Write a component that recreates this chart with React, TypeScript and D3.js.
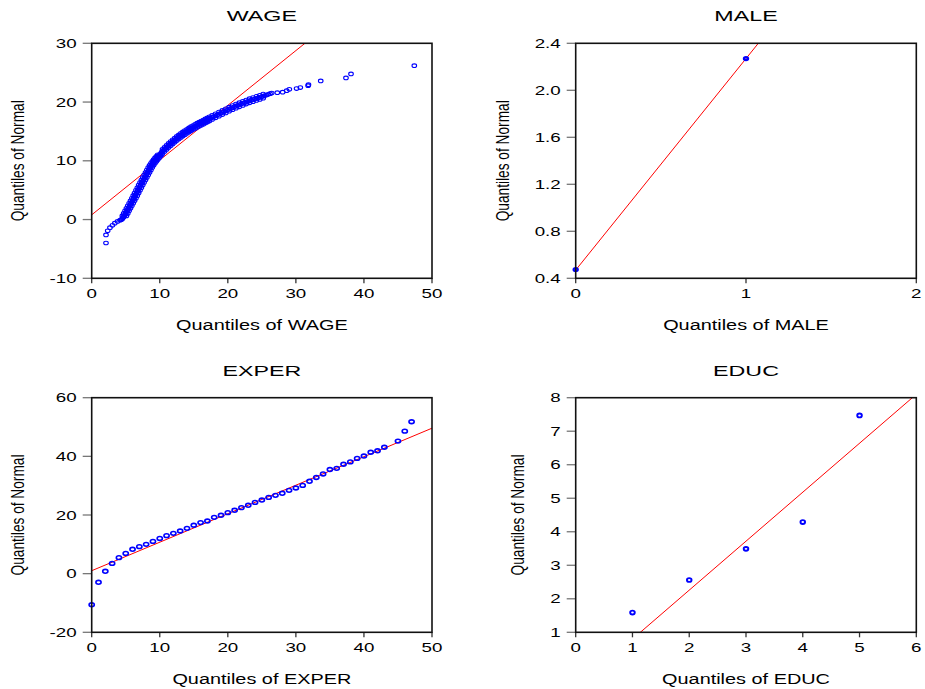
import React from "react";
import * as d3 from "d3";

// ---------- data ----------
// WAGE: sample quantiles (x) against theoretical normal quantiles (y)
const wageSample: number[] = [
  2.1, 2.1, 2.35, 2.68, 3.05, 3.4, 3.8, 4.15, 4.28,
  4.4, 4.5, 4.6, 4.7, 4.8, 4.9, 5.0, 5.1, 5.2, 5.3, 5.4, 5.5, 5.6, 5.7, 5.8, 5.9,
  6.0, 6.1, 6.2, 6.3, 6.4, 6.5, 6.6, 6.7, 6.8, 6.9, 7.0, 7.1, 7.2, 7.3, 7.4, 7.5,
  7.6, 7.7, 7.8, 7.9, 8.0, 8.1, 8.2, 8.3, 8.4, 8.5, 8.6, 8.7, 8.8, 8.9, 9.0, 9.1,
  9.2, 9.3, 9.4, 9.5, 9.6, 9.7, 9.8, 9.9, 10.0, 10.1,
  10.25, 10.4, 10.55, 10.7, 10.85, 11.0, 11.15, 11.3, 11.45, 11.6, 11.75, 11.9,
  12.05, 12.2, 12.35, 12.5, 12.65, 12.8, 12.95, 13.1, 13.25, 13.4, 13.55, 13.7,
  13.85, 14.0, 14.15, 14.3, 14.45, 14.6, 14.75, 14.9, 15.05, 15.2, 15.35, 15.5,
  15.65, 15.8, 15.95, 16.1, 16.25, 16.4, 16.55, 16.7, 16.85, 17.0, 17.15, 17.3, 17.45,
  17.7, 17.95, 18.2, 18.45, 18.7, 18.95, 19.2, 19.45, 19.7, 19.95, 20.2, 20.45,
  20.7, 20.95, 21.2, 21.45, 21.7, 21.95, 22.2, 22.45, 22.7, 22.95, 23.2, 23.45,
  23.7, 23.95, 24.2, 24.45, 24.7, 24.95, 25.2, 25.45, 25.7, 25.95, 26.2, 26.45,
  27.27, 28.06, 28.65, 29.04, 30.1, 30.65, 31.8, 31.85, 33.65, 37.36, 38.1, 47.4,
];
const wageNormal: number[] = [
  -3.99, -2.62, -1.92, -1.39, -0.98, -0.62, -0.32, -0.12, -0.05,
  0.0, 0.15, 0.3, 0.45, 0.62, 0.83, 1.05, 1.27, 1.48, 1.7, 1.91, 2.12, 2.33, 2.55, 2.76, 2.97,
  3.18, 3.4, 3.62, 3.85, 4.07, 4.29, 4.52, 4.74, 4.97, 5.19, 5.41, 5.64, 5.86, 6.08, 6.3, 6.52,
  6.73, 6.94, 7.16, 7.37, 7.58, 7.8, 8.01, 8.22, 8.43, 8.64, 8.85, 9.05, 9.23, 9.4, 9.57, 9.73,
  9.89, 10.04, 10.19, 10.34, 10.49, 10.63, 10.77, 10.9, 11.03, 11.16,
  11.43, 11.61, 11.78, 11.95, 12.12, 12.28, 12.44, 12.6, 12.76, 12.92, 13.07, 13.22,
  13.37, 13.52, 13.66, 13.8, 13.93, 14.06, 14.19, 14.32, 14.44, 14.56, 14.68, 14.8,
  14.91, 15.02, 15.13, 15.24, 15.35, 15.46, 15.56, 15.66, 15.76, 15.86, 15.96, 16.05,
  16.14, 16.23, 16.32, 16.41, 16.5, 16.59, 16.68, 16.77, 16.86, 16.95, 17.04, 17.13, 17.22,
  17.38, 17.52, 17.66, 17.8, 17.94, 18.08, 18.22, 18.36, 18.5, 18.64, 18.78, 18.92,
  19.05, 19.18, 19.3, 19.42, 19.54, 19.66, 19.78, 19.89, 20.0, 20.11, 20.22, 20.32,
  20.42, 20.52, 20.62, 20.71, 20.8, 20.9, 21.0, 21.1, 21.2, 21.31, 21.42, 21.53,
  21.59, 21.68, 21.94, 22.17, 22.3, 22.47, 22.78, 22.95, 23.6, 24.1, 24.78, 26.2,
];
// further observations along the upper-left side of the dense band
const wageUpperSample: number[] = [
  4.5, 4.7, 4.9, 5.1, 5.3, 5.5, 5.7, 5.9, 6.1, 6.3, 6.5, 6.7, 6.9, 7.1, 7.3, 7.5,
  7.7, 7.9, 8.1, 8.3, 8.5, 8.7, 8.9, 9.1, 9.3, 9.5, 9.7,
  10.4, 10.7, 11.0, 11.3, 11.6, 11.9, 12.2, 12.5, 12.8, 13.1, 13.4, 13.7, 14.0, 14.3,
  14.6, 14.9, 15.2, 15.5, 15.8, 16.1, 16.4, 16.7, 17.0, 17.3, 17.7, 18.2, 18.7, 19.2,
  19.7, 20.2, 20.7, 21.2, 21.7, 22.2, 22.7, 23.2, 23.7, 24.2, 24.7, 25.2,
];
const wageUpperNormal: number[] = [
  0.62, 1.05, 1.48, 1.91, 2.33, 2.76, 3.18, 3.62, 4.07, 4.52, 4.97, 5.41, 5.86, 6.3, 6.73, 7.16,
  7.58, 8.01, 8.43, 8.85, 9.23, 9.57, 9.89, 10.19, 10.49, 10.77, 11.03,
  11.96, 12.3, 12.63, 12.95, 13.27, 13.57, 13.87, 14.15, 14.41, 14.67, 14.91, 15.15, 15.37, 15.59,
  15.81, 16.01, 16.21, 16.4, 16.58, 16.76, 16.94, 17.12, 17.3, 17.48, 17.73, 18.01, 18.29, 18.57,
  18.85, 19.13, 19.4, 19.65, 19.89, 20.13, 20.35, 20.57, 20.77, 20.97, 21.15, 21.35,
];
// further observations along the lower-right side of the dense band
const wageLowerSample: number[] = [
  5.1, 5.3, 5.5, 5.7, 5.9, 6.1, 6.3, 6.5, 6.7, 6.9, 7.1, 7.3, 7.5, 7.7, 7.9, 8.1,
  8.3, 8.5, 8.7, 8.9, 9.1, 9.3, 9.5, 9.7, 9.9, 10.1, 10.3,
  10.4, 10.7, 11.0, 11.3, 11.6, 11.9, 12.2, 12.5, 12.8, 13.1, 13.4, 13.7, 14.0, 14.3,
  14.6, 14.9, 15.2, 15.5, 15.8, 16.1, 16.4, 16.7, 17.0, 17.3, 17.7, 18.2, 18.7, 19.2,
  19.7, 20.2, 20.7, 21.2, 21.7, 22.2, 22.7, 23.2, 23.7, 24.2, 24.7, 25.2,
];
const wageLowerNormal: number[] = [
  0.62, 1.05, 1.48, 1.91, 2.33, 2.76, 3.18, 3.62, 4.07, 4.52, 4.97, 5.41, 5.86, 6.3, 6.73, 7.16,
  7.58, 8.01, 8.43, 8.85, 9.23, 9.57, 9.89, 10.19, 10.49, 10.77, 11.03,
  11.26, 11.6, 11.93, 12.25, 12.57, 12.87, 13.17, 13.45, 13.71, 13.97, 14.21, 14.45, 14.67, 14.89,
  15.11, 15.31, 15.51, 15.7, 15.88, 16.06, 16.24, 16.42, 16.6, 16.78, 17.03, 17.31, 17.59, 17.87,
  18.15, 18.43, 18.7, 18.95, 19.19, 19.43, 19.65, 19.87, 20.07, 20.27, 20.45, 20.65,
];

// MALE
const maleSample: number[] = [0, 1];
const maleNormal: number[] = [0.475, 2.27];

// EXPER
const experSample: number[] = [
  0, 1, 2, 3, 4, 5, 6, 7, 8, 9, 10, 11, 12, 13, 14, 15, 16, 17, 18, 19, 20, 21, 22, 23,
  24, 25, 26, 27, 28, 29, 30, 31, 32, 33, 34, 35, 36, 37, 38, 39, 40, 41, 42, 43, 45, 46, 47,
];
const experNormal: number[] = [
  -10.6, -2.95, 0.8, 3.5, 5.45, 6.9, 8.3, 9.2, 10.0, 11.0, 12.0, 12.95, 13.75, 14.55,
  15.45, 16.5, 17.4, 17.95, 19.2, 19.9, 20.8, 21.6, 22.5, 23.3, 24.3, 25.1, 26.0, 26.7,
  27.4, 28.4, 29.2, 30.1, 31.5, 32.8, 34.0, 35.5, 35.9, 37.3, 38.1, 39.3, 40.1, 41.4,
  41.9, 43.1, 45.2, 48.6, 51.8,
];

// EDUC
const educSample: number[] = [1, 2, 3, 4, 5];
const educNormal: number[] = [1.59, 2.56, 3.49, 4.29, 7.47];

// fitted reference lines: [intercept, slope]
const wageFit: [number, number] = [0.8, 0.932];
const maleFit: [number, number] = [0.47, 1.8];
const experFit: [number, number] = [1.0, 0.972];
const educFit: [number, number] = [-0.664, 1.461];

// axis ticks
const wageXTicks = [0, 10, 20, 30, 40, 50];
const wageYTicks = [-10, 0, 10, 20, 30];
const maleXTicks = [0, 1, 2];
const maleYTicks = [0.4, 0.8, 1.2, 1.6, 2.0, 2.4];
const experXTicks = [0, 10, 20, 30, 40, 50];
const experYTicks = [-20, 0, 20, 40, 60];
const educXTicks = [0, 1, 2, 3, 4, 5, 6];
const educYTicks = [1, 2, 3, 4, 5, 6, 7, 8];

// ---------- drawing ----------
const FONT = "'Liberation Sans', Arial, Helvetica, sans-serif";
const WIDE = 1.5; // horizontal stretch of the tick / title lettering
const TICK_FS = 12.5;

function textWidth(s: string, fs: number, sx: number): number {
  let w = 0;
  for (const ch of s) {
    if (ch === "-") w += 0.333;
    else if (ch === ".") w += 0.278;
    else w += 0.556;
  }
  return w * fs * sx;
}

type Box = { left: number; right: number; top: number; bottom: number };
type Marker = { rx: number; ry: number; width: number };

interface PanelProps {
  id: string;
  title: string;
  xLabel: string;
  xs: number[];
  ys: number[];
  fit: [number, number];
  xDomain: [number, number];
  yDomain: [number, number];
  xTicks: number[];
  yTicks: number[];
  yFormat: (v: number) => string;
  box: Box;
  marker: Marker;
}

function WideText(props: {
  x: number;
  y: number;
  sx: number;
  fs: number;
  anchor: "start" | "middle" | "end";
  children: string;
}) {
  const { x, y, sx, fs, anchor, children } = props;
  return (
    <text
      transform={`translate(${x},${y}) scale(${sx},1)`}
      textAnchor={anchor}
      fontFamily={FONT}
      fontSize={fs}
      fill="#000"
    >
      {children}
    </text>
  );
}

function Panel(p: PanelProps) {
  const { box, marker } = p;
  const x = d3.scaleLinear().domain(p.xDomain).range([box.left, box.right]);
  const y = d3.scaleLinear().domain(p.yDomain).range([box.bottom, box.top]);
  const pts = p.xs.map((v, i) => [v, p.ys[i]] as [number, number]);
  const [a, b] = p.fit;
  const fitLine = d3
    .line<number>()
    .x((v) => x(v))
    .y((v) => y(a + b * v))(p.xDomain as number[]);
  const cx = (box.left + box.right) / 2;
  const cy = (box.top + box.bottom) / 2;
  const labels = p.yTicks.map(p.yFormat);
  const maxW = d3.max(labels, (s) => textWidth(s, TICK_FS, WIDE)) || 0;
  const yLabelBase = box.left - 15 - maxW - 26;
  const clipId = `clip-${p.id}`;

  return (
    <g>
      <defs>
        <clipPath id={clipId}>
          <rect x={box.left} y={box.top} width={box.right - box.left} height={box.bottom - box.top} />
        </clipPath>
      </defs>

      <WideText x={cx} y={box.top - 22} sx={WIDE} fs={15.5} anchor="middle">
        {p.title}
      </WideText>

      {/* y ticks */}
      {p.yTicks.map((t, i) => (
        <g key={`y${i}`}>
          <line x1={box.left - 9} x2={box.left} y1={y(t)} y2={y(t)} stroke="#777" strokeWidth={1.3} />
          <WideText x={box.left - 15} y={y(t) + 4.5} sx={WIDE} fs={TICK_FS} anchor="end">
            {labels[i]}
          </WideText>
        </g>
      ))}

      {/* x ticks */}
      {p.xTicks.map((t, i) => (
        <g key={`x${i}`}>
          <line x1={x(t)} x2={x(t)} y1={box.bottom} y2={box.bottom + 5} stroke="#333" strokeWidth={1.3} />
          <WideText x={x(t)} y={box.bottom + 20} sx={WIDE} fs={TICK_FS} anchor="middle">
            {String(t)}
          </WideText>
        </g>
      ))}

      <WideText x={cx} y={box.bottom + 52} sx={1.42} fs={14} anchor="middle">
        {p.xLabel}
      </WideText>

      <text
        transform={`translate(${yLabelBase},${cy}) rotate(-90)`}
        textAnchor="middle"
        fontFamily={FONT}
        fontSize={18}
        textLength={121}
        lengthAdjust="spacingAndGlyphs"
        fill="#000"
      >
        Quantiles of Normal
      </text>

      <g clipPath={`url(#${clipId})`}>
        <path d={fitLine || ""} stroke="#ff0000" strokeWidth={1} fill="none" />
      </g>

      <g>
        {pts.map(([vx, vy], i) => (
          <ellipse
            key={i}
            cx={x(vx)}
            cy={y(vy)}
            rx={marker.rx}
            ry={marker.ry}
            fill="none"
            stroke="#0000ff"
            strokeWidth={marker.width}
          />
        ))}
      </g>

      <rect
        x={box.left}
        y={box.top}
        width={box.right - box.left}
        height={box.bottom - box.top}
        fill="none"
        stroke="#111"
        strokeWidth={1.6}
      />
    </g>
  );
}

const fmtInt = (v: number) => String(v);
const fmt1 = d3.format(".1f");

export default function App() {
  const topRow = { top: 43.3, bottom: 278.3 };
  const botRow = { top: 397.7, bottom: 632.3 };
  const leftCol = { left: 91.7, right: 432 };
  const rightCol = { left: 575.7, right: 916.3 };

  return (
    <svg
      width={925}
      height={689}
      viewBox="0 0 925 689"
      style={{ position: "absolute", left: 0, top: 0, background: "#fff" }}
    >
      <rect x={0} y={0} width={925} height={689} fill="#fff" />
      <Panel
        id="wage"
        title="WAGE"
        xLabel="Quantiles of WAGE"
        xs={[...wageSample, ...wageUpperSample, ...wageLowerSample]}
        ys={[...wageNormal, ...wageUpperNormal, ...wageLowerNormal]}
        fit={wageFit}
        xDomain={[0, 50]}
        yDomain={[-10, 30]}
        xTicks={wageXTicks}
        yTicks={wageYTicks}
        yFormat={fmtInt}
        box={{ ...leftCol, ...topRow }}
        marker={{ rx: 2.3, ry: 1.8, width: 1.1 }}
      />
      <Panel
        id="male"
        title="MALE"
        xLabel="Quantiles of MALE"
        xs={maleSample}
        ys={maleNormal}
        fit={maleFit}
        xDomain={[0, 2]}
        yDomain={[0.4, 2.4]}
        xTicks={maleXTicks}
        yTicks={maleYTicks}
        yFormat={fmt1}
        box={{ ...rightCol, ...topRow }}
        marker={{ rx: 2.1, ry: 1.5, width: 2.2 }}
      />
      <Panel
        id="exper"
        title="EXPER"
        xLabel="Quantiles of EXPER"
        xs={experSample}
        ys={experNormal}
        fit={experFit}
        xDomain={[0, 50]}
        yDomain={[-20, 60]}
        xTicks={experXTicks}
        yTicks={experYTicks}
        yFormat={fmtInt}
        box={{ ...leftCol, ...botRow }}
        marker={{ rx: 2.6, ry: 1.9, width: 1.6 }}
      />
      <Panel
        id="educ"
        title="EDUC"
        xLabel="Quantiles of EDUC"
        xs={educSample}
        ys={educNormal}
        fit={educFit}
        xDomain={[0, 6]}
        yDomain={[1, 8]}
        xTicks={educXTicks}
        yTicks={educYTicks}
        yFormat={fmtInt}
        box={{ ...rightCol, ...botRow }}
        marker={{ rx: 2.3, ry: 1.9, width: 1.9 }}
      />
    </svg>
  );
}
